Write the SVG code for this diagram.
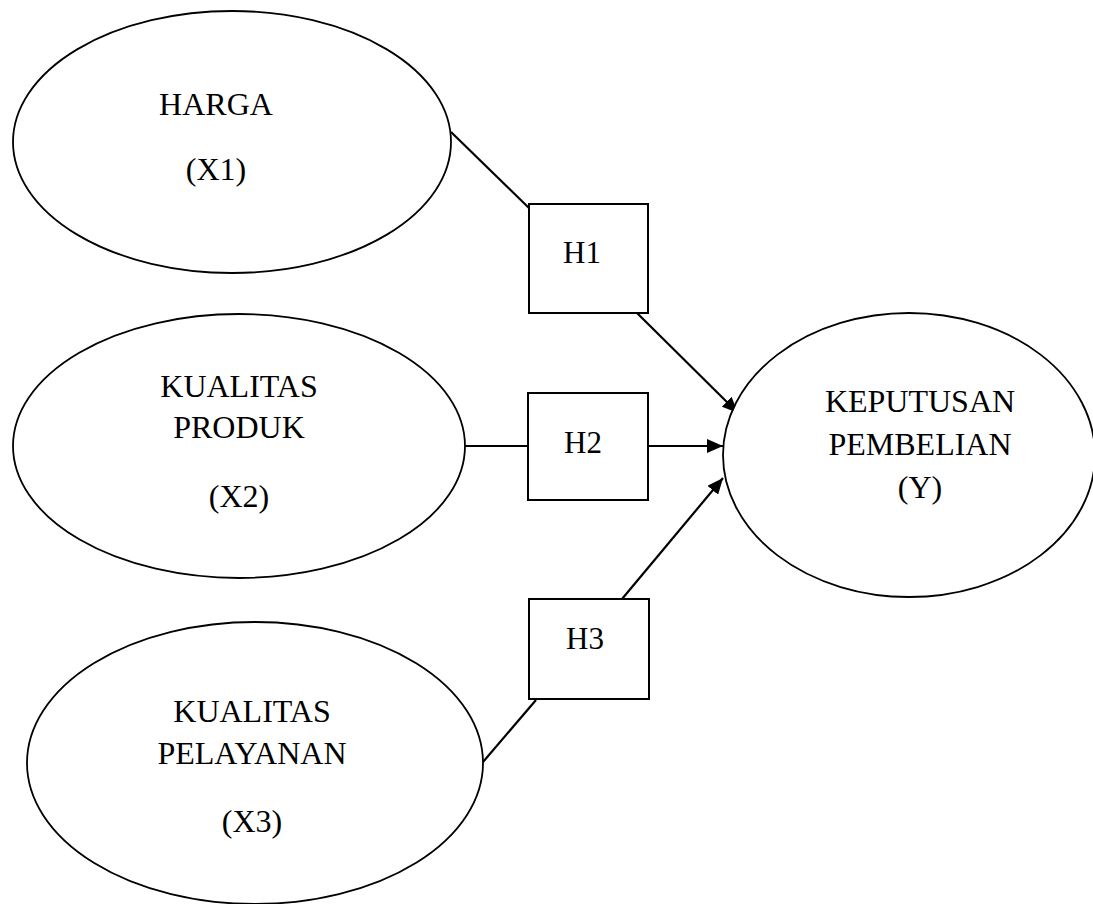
<svg xmlns="http://www.w3.org/2000/svg" width="1093" height="904" viewBox="0 0 1093 904">
<defs>
<marker id="arr" viewBox="0 0 16 14" refX="16" refY="7" markerWidth="16" markerHeight="14" markerUnits="userSpaceOnUse" orient="auto">
<path d="M0,0 L16,7 L0,14 Z" fill="#000"/>
</marker>
<style>
.node ellipse{fill:#fff;stroke:#000;stroke-width:1.8}
.node rect{fill:#fff;stroke:#000;stroke-width:2}
text{font-family:"Liberation Serif","Times New Roman",serif;font-size:32px;fill:#000;text-anchor:middle}
.box text{font-size:31px}
#connectors line{stroke:#000;stroke-width:2.2}
</style>
</defs>
<rect width="1093" height="904" fill="#fff"/>
<g id="connectors">
<line x1="451" y1="132" x2="529" y2="208"/>
<line x1="637" y1="313" x2="738" y2="413" marker-end="url(#arr)"/>
<line x1="465" y1="446" x2="528" y2="446"/>
<line x1="648" y1="446" x2="723" y2="446" marker-end="url(#arr)"/>
<line x1="483" y1="762" x2="536" y2="700"/>
<line x1="622" y1="599" x2="723" y2="478" marker-end="url(#arr)"/>
</g>
<g id="x1" class="node">
<ellipse cx="232" cy="142" rx="219" ry="131"/>
<text x="216" y="115">HARGA</text>
<text x="216" y="180">(X1)</text>
</g>
<g id="x2" class="node">
<ellipse cx="239" cy="446" rx="226" ry="132"/>
<text x="239" y="397">KUALITAS</text>
<text x="239" y="438">PRODUK</text>
<text x="239" y="507">(X2)</text>
</g>
<g id="x3" class="node">
<ellipse cx="255" cy="763" rx="228" ry="141"/>
<text x="252" y="722">KUALITAS</text>
<text x="252" y="764">PELAYANAN</text>
<text x="252" y="832">(X3)</text>
</g>
<g id="y" class="node">
<ellipse cx="909" cy="455" rx="186" ry="142"/>
<text x="920" y="412">KEPUTUSAN</text>
<text x="920" y="455">PEMBELIAN</text>
<text x="920" y="498">(Y)</text>
</g>
<g id="h1" class="node box">
<rect x="529" y="204" width="119" height="109"/>
<text x="582" y="263">H1</text>
</g>
<g id="h2" class="node box">
<rect x="528" y="393" width="120" height="107"/>
<text x="583" y="453">H2</text>
</g>
<g id="h3" class="node box">
<rect x="529" y="599" width="120" height="100"/>
<text x="585" y="649">H3</text>
</g>
</svg>
